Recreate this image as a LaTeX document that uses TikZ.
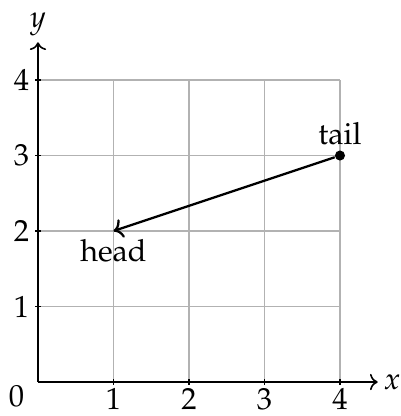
\documentclass[tikz,border=0pt]{standalone}
\usepackage[T1]{fontenc}
\usepackage{mathpazo}
\usetikzlibrary{arrows.meta,positioning}

\begin{document}
\begin{tikzpicture}
  [
  gridline/.style={draw, gray!60, line width=0.45pt},
  axisline/.style={draw, ->, line width=0.6pt},
  vecline/.style={draw, ->, line width=0.85pt},
  labelnode/.style={font=\fontsize{11.5}{13}\selectfont, inner sep=2pt},
  dotnode/.style={circle, fill, inner sep=0pt, minimum size=3.8pt}
  ]
  \useasboundingbox (-0.503,-0.45) rectangle (4.808,5.06);
  \draw[gridline] (0,0) grid (4,4);
  \coordinate (origin) at (0,0);
  \coordinate (xend) at (4.5,0);
  \coordinate (yend) at (0,4.5);
  \draw[axisline] (origin) -- (xend) node[labelnode, right] (xlabel) {$x$};
  \draw[axisline] (origin) -- (yend) node[labelnode, above] (ylabel) {$y$};
  \node[labelnode, below left, inner sep=1pt, xshift=-4pt] (zero) at (origin) {0};
  \foreach \i in {1,...,4} {
    \draw[line width=0.45pt] (\i,0.04) -- (\i,-0.04) node[labelnode, below, inner sep=1pt] (xtick\i) {\i};
    \draw[line width=0.45pt] (0.04,\i) -- (-0.04,\i) node[labelnode, left] (ytick\i) {\i};
  }
  \coordinate (head) at (1,2);
  \node[dotnode] (tail) at (4,3) {};
  \draw[vecline] (tail) -- (head);
  \node[labelnode, above=0pt of tail] (taillabel) {tail};
  \node[labelnode, below=1pt of head] (headlabel) {head};
\end{tikzpicture}
\end{document}
